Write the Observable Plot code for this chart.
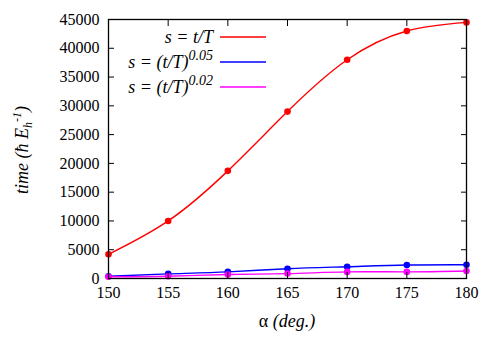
<!DOCTYPE html>
<html>
<head>
<meta charset="utf-8">
<script src="https://cdn.jsdelivr.net/npm/d3@7"></script>
<script src="https://cdn.jsdelivr.net/npm/@observablehq/plot@0.6"></script>
<style>
  body { margin: 0; background: #fff; }
</style>
</head>
<body>
<div id="chart"></div>
<script>
const alpha = [150, 155, 160, 165, 170, 175, 180];
const timeLinear = [4200, 10000, 18700, 29000, 38000, 43000, 44500];
const timePow05 = [400, 800, 1150, 1700, 2050, 2350, 2400];
const timePow02 = [300, 400, 700, 850, 1150, 1150, 1300];
const xTicks = [150, 155, 160, 165, 170, 175, 180];
const yTicks = [0, 5000, 10000, 15000, 20000, 25000, 30000, 35000, 40000, 45000];
const seriesColors = ["#ff0000", "#0000ff", "#ff00ff"];

const rows = (vals) => alpha.map((a, i) => ({a, t: vals[i]}));
const series = [rows(timeLinear), rows(timePow05), rows(timePow02)];

const marks = [];
series.forEach((d, i) => {
  marks.push(Plot.line(d, {x: "a", y: "t", stroke: seriesColors[i], strokeWidth: 1.4, curve: "natural"}));
  marks.push(Plot.dot(d, {x: "a", y: "t", fill: seriesColors[i], r: 3.3}));
});

const chart = Plot.plot({
  width: 491,
  height: 343,
  marginLeft: 108,
  marginRight: 25,
  marginTop: 19,
  marginBottom: 65,
  style: {fontFamily: "Liberation Serif", fontSize: "16px"},
  x: {domain: [150, 180]},
  y: {domain: [0, 45000]},
  marks: [
    ...marks,
    Plot.frame({stroke: "#000", strokeWidth: 1.3}),
    Plot.axisX(xTicks, {anchor: "bottom", tickSize: 0, tickPadding: 8, tickFormat: "d", label: null}),
    Plot.axisX(xTicks, {anchor: "bottom", tickSize: -6, tickFormat: () => "", label: null}),
    Plot.axisX(xTicks, {anchor: "top", tickSize: -6, tickFormat: () => "", label: null}),
    Plot.axisY(yTicks, {anchor: "left", tickSize: 0, tickPadding: 9, tickFormat: "d", label: null}),
    Plot.axisY(yTicks, {anchor: "left", tickSize: -6, tickFormat: () => "", label: null}),
    Plot.axisY(yTicks, {anchor: "right", tickSize: -6, tickFormat: () => "", label: null})
  ]
});
document.getElementById("chart").appendChild(chart);

const svg = d3.select(chart);

// x label
const xl = svg.append("text")
  .attr("x", 287).attr("y", 327)
  .attr("text-anchor", "middle")
  .attr("font-family", "Liberation Serif")
  .attr("font-size", 18).attr("fill", "#000");
xl.append("tspan").text("α ");
xl.append("tspan").attr("font-style", "italic").text("(deg.)");

// y label
const yl = svg.append("text")
  .attr("transform", "translate(28,150) rotate(-90)")
  .attr("text-anchor", "middle")
  .attr("font-family", "Liberation Serif")
  .attr("font-size", 18).attr("font-style", "italic").attr("fill", "#000");
yl.append("tspan").text("time (ħ E");
yl.append("tspan").attr("font-size", 12).attr("dy", 4).text("h");
yl.append("tspan").attr("font-size", 12).attr("dy", -11).text("-1");
yl.append("tspan").attr("dy", 7).text(")");

// legend
const legend = [
  {base: "s = t/T", sup: null},
  {base: "s = (t/T)", sup: "0.05"},
  {base: "s = (t/T)", sup: "0.02"}
];
legend.forEach((L, i) => {
  const yb = 43 + i * 25;
  const t = svg.append("text")
    .attr("x", 213).attr("y", yb)
    .attr("text-anchor", "end")
    .attr("font-family", "Liberation Serif")
    .attr("font-size", 18).attr("font-style", "italic").attr("fill", "#000");
  t.append("tspan").text(L.base);
  if (L.sup) t.append("tspan").attr("font-size", 14).attr("dy", -8).text(L.sup);
  svg.append("line")
    .attr("x1", 220).attr("x2", 266)
    .attr("y1", yb - 6).attr("y2", yb - 6)
    .attr("stroke", seriesColors[i]).attr("stroke-width", 1.4);
});
</script>
</body>
</html>
